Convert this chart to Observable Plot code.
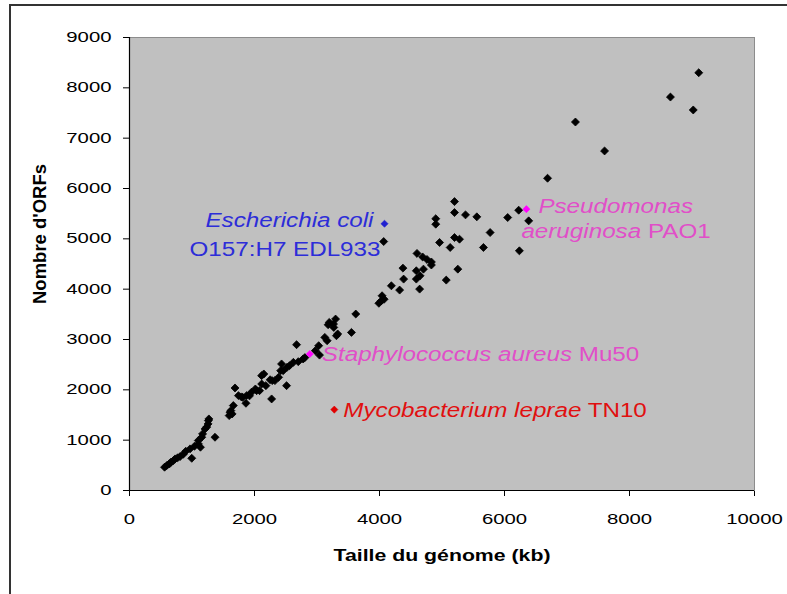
<!DOCTYPE html>
<html><head><meta charset="utf-8">
<script src="https://cdn.jsdelivr.net/npm/d3@7"></script>
<script src="https://cdn.jsdelivr.net/npm/@observablehq/plot@0.6"></script>
<style>
html,body{margin:0;padding:0;background:#fff;}
#wrap{position:relative;width:787px;height:594px;overflow:hidden;}
#border{position:absolute;left:9px;top:4px;width:800px;height:620px;border-left:2px solid #333;border-top:2px solid #333;pointer-events:none;}
</style></head><body><div id="wrap"><div id="chart"></div><div id="border"></div></div>
<script>
// ---- data ----
const genomeSizeKb = [561,597,640,662,703,730,770,810,860,900,969,996,1040,1101,1102,1135,1156,1169,1209,1236,1257,1262,1270,1368,
  1595,1608,1622,1642,1661,1688,1743,1790,1811,1863,1874,1920,1950,2014,2034,2081,2114,2115,2149,2182,2250,2274,2284,2327,2385,2419,2433,2459,2513,2520,2560,
  2622,2673,2700,2778,2806,2973,3027,3040,3125,3162,3178,3196,3264,3268,3297,3311,3331,3551,3620,
  3990,4030,4041,4074,4067,4190,4322,4375,4386,4589,4589,4600,4642,4649,4690,4703,4760,4830,4830,4900,4900,4961,5068,5131,5200,5200,5200,5253,5280,5376,5557,5663,5770,
  6051,6227,6238,6387,6689,7135,7601,8655,9020,9108];
const orfCount = [463,496,530,562,595,628,650,675,720,780,827,640,880,992,926,860,1058,1124,1224,1260,1323,1389,1422,1058,
  1488,1554,1587,1521,1687,2037,1885,1860,1852,1733,1885,1880,1950,2017,1984,1984,2282,2116,2315,2083,2200,1819,2183,2183,2249,2381,2514,2381,2083,2447,2480,
  2546,2897,2560,2613,2640,2778,2877,2690,3042,2976,3294,3340,3307,3240,3406,3075,3110,3141,3506,
  3720,3770,3869,3800,4946,4067,3982,4418,4200,4365,4200,4710,4001,4266,4640,4398,4590,4540,4480,5400,5291,4927,4180,4828,5026,5522,5740,4398,4993,5476,5437,4828,5125,
  5423,5569,4762,5357,6204,7321,6746,7817,7560,8300];

const highlightSizeKb = [4080, 6350, 2885, 3277];
const highlightOrfs   = [5300, 5590, 2712, 1607];
const labelItalic = ["Escherichia coli", "", "Pseudomonas", "aeruginosa", "Staphylococcus aureus", "Mycobacterium leprae"];
const labelRoman  = ["", "O157:H7 EDL933", "", " PAO1", " Mu50", " TN10"];
const labelOf     = [0, 0, 1, 1, 2, 3];   // which highlighted genome each label line belongs to

const xTicks = [0, 2000, 4000, 6000, 8000, 10000];
const yTicks = [0, 1000, 2000, 3000, 4000, 5000, 6000, 7000, 8000, 9000];
const xTitle = "Taille du génome (kb)";
const yTitle = "Nombre d'ORFs";

// ---- styles (kept apart from data) ----
const pointColor = ["#2020d0", "#ff00ff", "#ff00ff", "#e00000"];
const textColor  = ["#2d2dd8", "#e04fc8", "#e04fc8", "#e01010"];
const labelStyle = [
  {anchor: "end",   dx: -11, dy: -3},
  {anchor: "end",   dx: -4,  dy: 26},
  {anchor: "start", dx: 12,  dy: -3},
  {anchor: "start", dx: -5,  dy: 22},
  {anchor: "start", dx: 12,  dy: 1},
  {anchor: "start", dx: 9,   dy: 1}
];

const points = genomeSizeKb.map((x, i) => ({x, y: orfCount[i]}));
const highlights = highlightSizeKb.map((x, i) => ({x, y: highlightOrfs[i]}));

const marks = [
  Plot.frame({fill: "#c0c0c0", stroke: "#8c8c8c"}),
  Plot.ruleX([0], {stroke: "black", strokeWidth: 1.2}),
  Plot.ruleY([0], {stroke: "black", strokeWidth: 1.2}),
  Plot.dot(points, {x: "x", y: "y", symbol: "diamond2", r: 3.6, fill: "black", stroke: "black", strokeWidth: 0.8})
];
highlights.forEach((h, i) => {
  marks.push(Plot.dot([h], {x: "x", y: "y", symbol: "diamond2", r: 3.2, fill: pointColor[i], stroke: pointColor[i], strokeWidth: 0.6}));
});
labelItalic.forEach((it, j) => {
  const k = labelOf[j], s = labelStyle[j];
  marks.push(Plot.text([highlights[k]], {
    x: "x", y: "y", text: () => it + labelRoman[j],
    textAnchor: s.anchor, dx: s.dx, dy: s.dy, fill: textColor[k],
    fontSize: 20, ariaLabel: () => "annot-" + j
  }));
});
marks.push(Plot.text([xTitle], {text: d => d, frameAnchor: "bottom", textAnchor: "middle", dy: 70, fontWeight: "bold", fontSize: 17, ariaLabel: () => "title-x"}));
marks.push(Plot.text([yTitle], {text: d => d, frameAnchor: "left", textAnchor: "middle", dx: -89, dy: -30, rotate: -90, fontWeight: "bold", fontSize: 18.5, ariaLabel: () => "title-y"}));

const chart = Plot.plot({
  width: 787, height: 594,
  marginLeft: 129, marginRight: 33, marginTop: 37, marginBottom: 104,
  style: {fontFamily: "'Liberation Sans', Arial, sans-serif", fontSize: "14px", background: "transparent", color: "black"},
  x: {domain: [0, 10000], ticks: xTicks, tickSize: 6, tickPadding: 18, tickFormat: "d", label: null},
  y: {domain: [0, 9000], ticks: yTicks, tickSize: 6, tickPadding: 12, tickFormat: "d", label: null},
  marks
});
document.getElementById("chart").appendChild(chart);

// mixed italic / roman annotation text
labelItalic.forEach((it, j) => {
  const t = chart.querySelector(`text[aria-label="annot-${j}"]`);
  if (!t) return;
  t.textContent = "";
  if (it) { const a = document.createElementNS("http://www.w3.org/2000/svg", "tspan"); a.setAttribute("font-style", "italic"); a.textContent = it; t.appendChild(a); }
  if (labelRoman[j]) { const b = document.createElementNS("http://www.w3.org/2000/svg", "tspan"); b.textContent = labelRoman[j]; t.appendChild(b); }
});

// the reference image is horizontally stretched; widen glyphs to match
chart.querySelectorAll("text").forEach(t => {
  const lab = t.getAttribute("aria-label") || "";
  let k = 1.45;
  if (lab.startsWith("annot")) k = 1.21;
  else if (lab === "title-x") k = 1.25;
  else if (lab === "title-y") k = 1;
  if (k !== 1) {
    const len = t.getComputedTextLength();
    t.setAttribute("textLength", (len * k).toFixed(1));
    t.setAttribute("lengthAdjust", "spacingAndGlyphs");
  }
});
</script></body></html>
